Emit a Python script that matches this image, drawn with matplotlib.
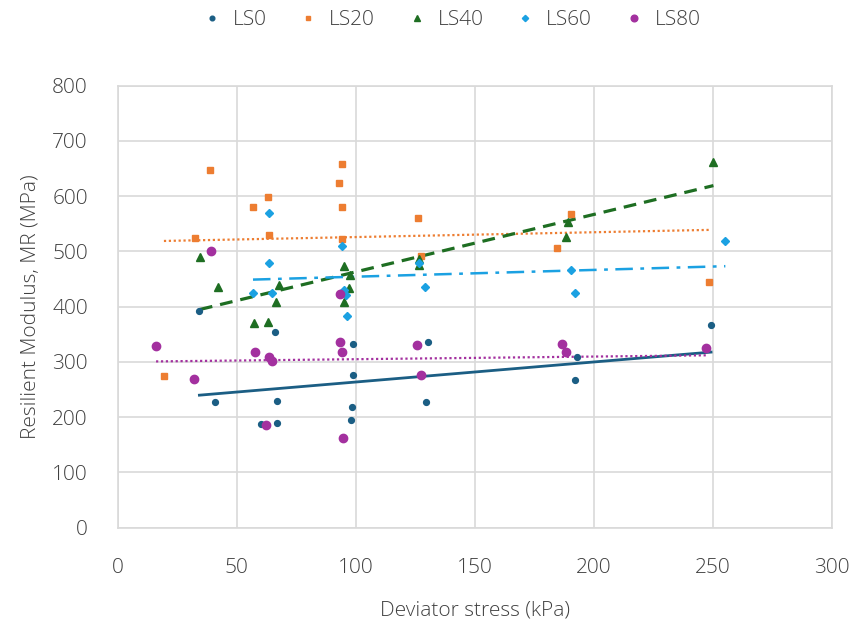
import matplotlib
matplotlib.use("Agg")
import matplotlib.pyplot as plt
import numpy as np

plt.rcParams['font.family'] = ['Open Sans', 'DejaVu Sans']

# ---- data ----
series_names = ["LS0", "LS20", "LS40", "LS60", "LS80"]

ls0_x = [34.3, 40.7, 66.0, 67.0, 60.1, 67.0, 98.7, 98.7, 98.3, 97.9, 130.2, 129.4, 192.7, 191.9, 249.1]
ls0_y = [393, 228, 354, 230, 188, 190, 333, 276, 219, 195, 336, 227, 309, 267, 366]

ls20_x = [38.7, 32.6, 56.8, 63.2, 63.6, 19.4, 94.1, 92.9, 94.1, 94.1, 125.9, 127.3, 190.1, 184.6, 248.3]
ls20_y = [647, 525, 580, 598, 530, 274, 659, 624, 581, 523, 560, 492, 567, 507, 444]

ls40_x = [34.5, 42.0, 67.8, 66.6, 57.2, 63.2, 95.0, 97.5, 97.2, 95.0, 126.7, 126.4, 189.0, 188.4, 250.1]
ls40_y = [490, 436, 439, 409, 371, 372, 473, 457, 434, 408, 486, 476, 554, 526, 662]

ls60_x = [63.6, 63.6, 56.8, 64.8, 94.1, 95.0, 95.8, 96.1, 126.7, 129.0, 190.5, 191.9, 255.1]
ls60_y = [570, 479, 424, 424, 510, 430, 422, 384, 480, 436, 466, 424, 519]

ls80_x = [39.3, 16.1, 32.2, 57.6, 63.6, 64.9, 62.2, 93.3, 93.3, 94.1, 94.5, 125.6, 127.3, 186.7, 188.4, 247.0]
ls80_y = [501, 329, 270, 318, 309, 301, 185, 423, 336, 318, 163, 331, 277, 333, 318, 325]

# linear trendline coefficients (intercept, slope)
trend_intercept = [227.4, 517.3, 359.1, 442.1, 300.2]
trend_slope = [0.363, 0.0874, 1.040, 0.1224, 0.0478]

x_ticks = [0, 50, 100, 150, 200, 250, 300]
y_ticks = [0, 100, 200, 300, 400, 500, 600, 700, 800]

# ---- styling ----
colors = ["#1B5E84", "#ED7D31", "#1E6E22", "#1BA1E2", "#A3309F"]
markers = ["o", "s", "^", "D", "o"]
msizes = [4.2, 4.3, 6.0, 4.0, 6.0]
lstyles = ["-", (0, (1, 1.2)), (0, (4, 2.5)), (0, (7, 3, 1.5, 3)), (0, (1, 1.2))]
lwidths = [2.0, 1.6, 2.3, 1.8, 1.6]

xs = [ls0_x, ls20_x, ls40_x, ls60_x, ls80_x]
ys = [ls0_y, ls20_y, ls40_y, ls60_y, ls80_y]

fig = plt.figure(figsize=(8.57, 6.26), dpi=100)
ax = fig.add_axes([117.7 / 857, 1 - 527.7 / 626, (832.3 - 117.7) / 857, (527.7 - 85.7) / 626])

handles = []
for i, name in enumerate(series_names):
    x = np.array(xs[i])
    y = np.array(ys[i])
    h, = ax.plot(x, y, linestyle="none", marker=markers[i], ms=msizes[i],
                 color=colors[i], mec=colors[i], label=name, zorder=3)
    handles.append(h)
    tx = np.array([x.min(), x.max()])
    ax.plot(tx, trend_intercept[i] + trend_slope[i] * tx, linestyle=lstyles[i],
            lw=lwidths[i], color=colors[i], zorder=2)

ax.set_xlim(0, 300)
ax.set_ylim(0, 800)
ax.set_xticks(x_ticks)
ax.set_yticks(y_ticks)
ax.grid(True, color="#D9D9D9", lw=1.2)
ax.set_axisbelow(True)
for s in ax.spines.values():
    s.set_color("#D9D9D9")
    s.set_linewidth(1.2)
ax.tick_params(length=0, labelsize=15, colors="#404040")
ax.tick_params(axis='x', pad=22)
ax.tick_params(axis='y', pad=21.5)
for lab in ax.get_xticklabels() + ax.get_yticklabels():
    lab.set_fontweight("light")

ax.set_xlabel("Deviator stress (kPa)", fontsize=15, color="#404040", labelpad=16, fontweight="light")
ax.set_ylabel("Resilient Modulus, MR (MPa)", fontsize=15, color="#404040", labelpad=8, fontweight="light")

leg = fig.legend(handles=handles, loc="center", bbox_to_anchor=(452 / 857, 1 - 20 / 626),
                 ncol=5, frameon=False, fontsize=15, handlelength=0.8, handletextpad=0.6,
                 columnspacing=1.6, markerscale=0.8)
for t in leg.get_texts():
    t.set_color("#404040")
    t.set_fontweight("light")

fig.savefig("out.png", dpi=100)
